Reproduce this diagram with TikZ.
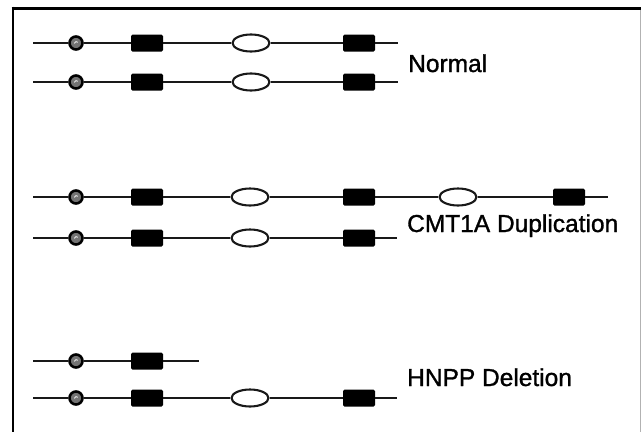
\documentclass[tikz,border=0pt]{standalone}
\usepackage{fontspec}
\setmainfont{Liberation Sans}
\newfontfamily\labelfont{Liberation Sans}[FakeBold=1.2]
\usetikzlibrary{shapes.geometric}
\begin{document}
\begin{tikzpicture}[x=1pt,y=-1pt,
  chrom/.style={line width=2.2pt,black!90},
  site/.style={circle,draw=black,line width=2.6pt,fill=black!55,
    minimum size=13pt,inner sep=0pt,
    path picture={\draw[gray!30,line width=1pt]
      ([shift={(-1.8,0.4)}]path picture bounding box.center)
      arc[start angle=180,end angle=330,radius=1.9];}},
  block/.style={rectangle,fill=black,rounded corners=1.5pt,
    minimum width=32pt,minimum height=17pt,inner sep=0pt},
  oval/.style={ellipse,draw=black!90,line width=2.1pt,fill=white,
    minimum width=37pt,minimum height=17pt,inner sep=0pt},
  label/.style={anchor=base west,inner sep=0pt,font=\labelfont\fontsize{24.5pt}{26pt}\selectfont}]
\useasboundingbox (0,0) rectangle (641,432);
% frame
\draw[line width=3pt] (11.5,8) -- (641,8);
\draw[line width=2pt] (12.5,6.5) -- (12.5,432);
\draw[line width=0.8pt,gray!60] (640,9.5) -- (640,432);

% chromosome pair: normal
\foreach \r/\y in {a/43,b/82}{
  \coordinate (\r s) at (33,\y);
  \coordinate (\r e) at (398,\y);
  \node[site]  (\r c)  at (76,\y) {};
  \node[block] (\r b1) at (147,\y) {};
  \node[oval]  (\r o1) at (251,\y) {};
  \node[block] (\r b2) at (359,\y) {};
  \draw[chrom] (\r s) -- (\r c) -- (\r b1) -- (\r o1) -- (\r b2) -- (\r e);
}
\node[label] (normal) at (408,72) {Normal};

% chromosome pair: duplication
\coordinate (cs) at (33,197);
\coordinate (ce) at (608,197);
\node[site]  (cc)  at (76,197) {};
\node[block] (cb1) at (147,197) {};
\node[oval]  (co1) at (250,197) {};
\node[block] (cb2) at (359,197) {};
\node[oval]  (co2) at (458,197) {};
\node[block] (cb3) at (569,197) {};
\draw[chrom] (cs) -- (cc) -- (cb1) -- (co1) -- (cb2) -- (co2) -- (cb3) -- (ce);

\coordinate (ds) at (33,238);
\coordinate (de) at (397,238);
\node[site]  (dc)  at (76,238) {};
\node[block] (db1) at (147,238) {};
\node[oval]  (do1) at (250,238) {};
\node[block] (db2) at (359,238) {};
\draw[chrom] (ds) -- (dc) -- (db1) -- (do1) -- (db2) -- (de);
\node[label] (dup) at (407,232) {CMT1A Duplication};

% chromosome pair: deletion
\coordinate (es) at (33,361);
\coordinate (ee) at (199,361);
\node[site]  (ec)  at (76,361) {};
\node[block] (eb1) at (147,361) {};
\draw[chrom] (es) -- (ec) -- (eb1) -- (ee);

\coordinate (fs) at (33,398);
\coordinate (fe) at (397,398);
\node[site]  (fc)  at (76,398) {};
\node[block] (fb1) at (147,398) {};
\node[oval]  (fo1) at (250,398) {};
\node[block] (fb2) at (359,398) {};
\draw[chrom] (fs) -- (fc) -- (fb1) -- (fo1) -- (fb2) -- (fe);
\node[label] (del) at (407,386) {HNPP Deletion};
\end{tikzpicture}
\end{document}
